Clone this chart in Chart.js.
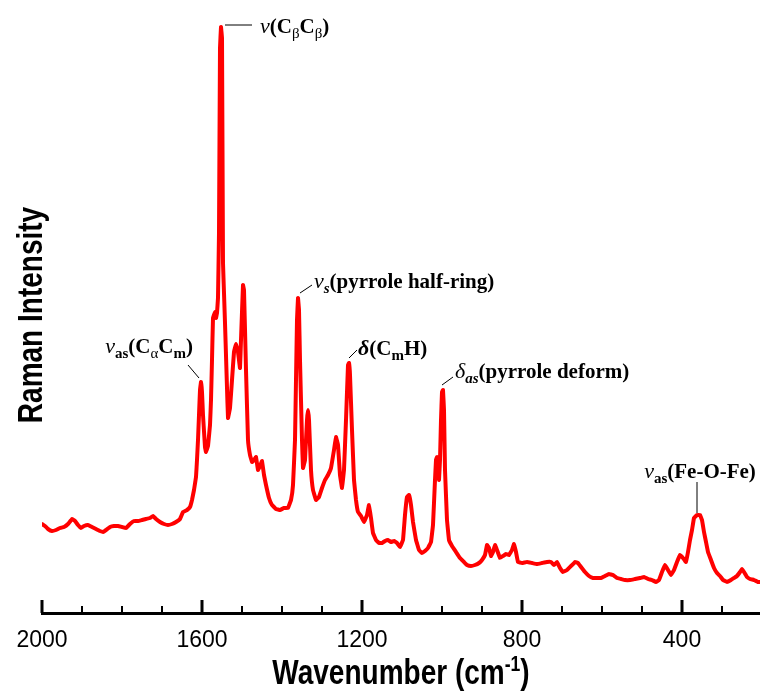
<!DOCTYPE html>
<html>
<head>
<meta charset="utf-8">
<script src="https://cdn.jsdelivr.net/npm/chart.js@4.4.1/dist/chart.umd.min.js"></script>
<style>
  html, body { margin: 0; padding: 0; background: #fff; }
  #wrap { width: 760px; height: 693px; }
</style>
</head>
<body>
<div id="wrap"><canvas id="raman" width="760" height="693"></canvas></div>
<script>
// Espectro Raman (cm-1, intensidad arbitraria)
const wavenumbers = [
  2000, 1992.5, 1985, 1975, 1965, 1955, 1945, 1935, 1925, 1917.5, 1910, 1902.5, 1895, 1885, 1875, 1865,
  1855, 1847.5, 1840, 1830, 1820, 1810, 1800, 1790, 1780, 1770, 1760, 1750, 1740, 1730, 1722.5, 1715,
  1705, 1695, 1685, 1675, 1665, 1655, 1647.5, 1637.5, 1630, 1625, 1620, 1615, 1612.5, 1610, 1607.5, 1605,
  1602.5, 1600, 1597.5, 1592.5, 1590, 1585, 1580, 1577.5, 1575, 1572.5, 1567.5, 1565, 1562.5, 1560, 1557.5, 1555,
  1552.5, 1550, 1547.5, 1545, 1542.5, 1537.5, 1535, 1530, 1525, 1520, 1515, 1510, 1505, 1502.5, 1497.5, 1495,
  1490, 1485, 1480, 1475, 1470, 1465, 1460, 1455, 1450, 1445, 1440, 1432.5, 1425, 1415, 1405, 1395,
  1385, 1377.5, 1372.5, 1367.5, 1365, 1362.5, 1360, 1357.5, 1355, 1350, 1347.5, 1342.5, 1337.5, 1335, 1332.5, 1327.5,
  1322.5, 1315, 1307.5, 1300, 1292.5, 1285, 1277.5, 1270, 1265, 1260, 1255, 1250, 1245, 1240, 1235, 1232.5,
  1230, 1225, 1220, 1215, 1210, 1202.5, 1195, 1187.5, 1182.5, 1177.5, 1172.5, 1165, 1157.5, 1150, 1142.5, 1135,
  1127.5, 1120, 1112.5, 1105, 1097.5, 1092.5, 1087.5, 1082.5, 1077.5, 1072.5, 1065, 1057.5, 1050, 1042.5, 1035, 1027.5,
  1022.5, 1017.5, 1015, 1012.5, 1010, 1007.5, 1005, 1002.5, 1000, 997.5, 995, 992.5, 987.5, 982.5, 975, 965,
  955, 945, 937.5, 927.5, 917.5, 907.5, 900, 892.5, 887.5, 882.5, 877.5, 872.5, 867.5, 862.5, 855, 847.5,
  840, 832.5, 825, 820, 815, 810, 800, 787.5, 775, 762.5, 750, 737.5, 727.5, 720, 712.5, 705,
  697.5, 687.5, 677.5, 667.5, 660, 652.5, 642.5, 632.5, 622.5, 612.5, 602.5, 592.5, 582.5, 572.5, 562.5, 552.5,
  542.5, 530, 517.5, 505, 495, 485, 475, 465, 457.5, 450, 442.5, 435, 427.5, 420, 412.5, 405,
  397.5, 390, 385, 380, 375, 370, 362.5, 355, 350, 345, 340, 335, 327.5, 320, 312.5, 305,
  297.5, 287.5, 277.5, 270, 262.5, 255, 250, 245, 237.5, 230, 220, 210, 205
];
const intensity = [
  89, 87, 84, 82, 83, 85, 86, 89, 94, 92, 88, 85, 87, 88, 86, 84,
  82, 81, 83, 86, 87, 87, 86, 85, 89, 92, 92, 93, 94, 95, 97, 94,
  91, 89, 88, 89, 91, 94, 101, 103, 106, 113, 123, 136, 153, 173, 198, 223,
  231, 221, 198, 166, 161, 167, 188, 213, 253, 295, 301, 295, 300, 315, 380, 565,
  586, 575, 350, 320, 290, 225, 195, 205, 233, 261, 269, 261, 245, 273, 328, 323,
  243, 173, 158, 151, 153, 156, 143, 147, 152, 138, 128, 115, 108, 104, 103, 105,
  105, 113, 128, 173, 233, 293, 315, 303, 253, 173, 145, 153, 193, 203, 193, 143,
  123, 113, 116, 125, 133, 138, 145, 163, 176, 168, 138, 125, 143, 193, 248, 250,
  238, 183, 133, 113, 101, 97, 91, 98, 108, 95, 80, 73, 70, 70, 72, 73,
  71, 72, 70, 66, 73, 98, 116, 118, 108, 91, 73, 63, 60, 62, 65, 71,
  88, 133, 153, 156, 151, 133, 153, 193, 221, 223, 203, 143, 93, 73, 67, 61,
  55, 51, 48, 47, 48, 50, 53, 58, 68, 65, 57, 61, 68, 63, 55, 57,
  59, 58, 63, 69, 61, 51, 50, 51, 50, 49, 50, 51, 51, 48, 51, 45,
  41, 43, 47, 51, 50, 46, 41, 37, 35, 35, 35, 37, 39, 38, 35, 34,
  33, 33, 34, 35, 36, 34, 33, 31, 33, 41, 48, 43, 38, 43, 51, 58,
  55, 51, 61, 73, 83, 95, 98, 98, 93, 81, 71, 61, 53, 45, 40, 37,
  33, 31, 33, 35, 37, 41, 44, 41, 36, 34, 33, 31, 31
];

// Marcas del eje X
const tickValues = [2000, 1900, 1800, 1700, 1600, 1500, 1400, 1300, 1200, 1100, 1000, 900, 800, 700, 600, 500, 400, 300];
const majorTicks = [2000, 1600, 1200, 800, 400];

// Asignaciones de los picos
const peakWavenumbers = [1552.5, 1602.5, 1360, 1232.5, 997.5, 362.5];
const peakLabels = [
  [['ν', 'i'], ['(C', 'b'], ['β', 'sr'], ['C', 'b'], ['β', 'sr'], [')', 'b']],
  [['ν', 'i'], ['as', 'sb'], ['(C', 'b'], ['α', 'sr'], ['C', 'b'], ['m', 'sb'], [')', 'b']],
  [['ν', 'i'], ['s', 'si'], ['(pyrrole half-ring)', 'b']],
  [['δ', 'bi'], ['(C', 'b'], ['m', 'sb'], ['H)', 'b']],
  [['δ', 'i'], ['as', 'si'], ['(pyrrole deform)', 'b']],
  [['ν', 'i'], ['as', 'sb'], ['(Fe-O-Fe)', 'b']]
];

// Posicion de cada etiqueta respecto a su pico (px)
const leaderOffsets = [[4, -2, 31, -2], [-2, -4, -13, -17], [2, -5, 14, -13], [0, -5, 8, -13], [-1, -5, 10, -13], [0, -2, 0, -33]];
const textOffsets = [[39, 6, 'left'], [-8, -29, 'right'], [16, -10, 'left'], [9, -8, 'left'], [12, -12, 'left'], [3, -37, 'center']];

const serif = '"Liberation Serif", "Times New Roman", serif';
const fuentes = {
  b: { font: 'bold 21px ' + serif, dy: 0 },
  i: { font: 'italic 22px ' + serif, dy: 0 },
  bi: { font: 'italic bold 22px ' + serif, dy: 0 },
  sb: { font: 'bold 15px ' + serif, dy: 5 },
  si: { font: 'italic bold 15px ' + serif, dy: 5 },
  sr: { font: '15px ' + serif, dy: 5 }
};

function dibujarTexto(ctx, x, y, partes, align) {
  let ancho = 0;
  partes.forEach(([t, f]) => { ctx.font = fuentes[f].font; ancho += ctx.measureText(t).width; });
  let cx = align === 'right' ? x - ancho : align === 'center' ? x - ancho / 2 : x;
  ctx.textAlign = 'left';
  ctx.textBaseline = 'alphabetic';
  partes.forEach(([t, f]) => {
    ctx.font = fuentes[f].font;
    ctx.fillText(t, cx, y + fuentes[f].dy);
    cx += ctx.measureText(t).width;
  });
}

const decoracion = {
  id: 'decoracion',
  afterDraw(chart) {
    const { ctx, chartArea } = chart;
    const xs = chart.scales.x;
    const ys = chart.scales.y;
    ctx.save();
    ctx.fillStyle = '#000';

    // marcas hacia dentro
    tickValues.forEach(v => {
      const px = Math.round(xs.getPixelForValue(v));
      if (majorTicks.includes(v)) ctx.fillRect(px - 1.5, chartArea.bottom - 13, 3, 13);
      else ctx.fillRect(px - 1, chartArea.bottom - 7, 2, 7);
    });

    // etiquetas de picos
    ctx.strokeStyle = '#000';
    ctx.lineWidth = 1;
    peakWavenumbers.forEach((w, k) => {
      const idx = wavenumbers.indexOf(w);
      const px = xs.getPixelForValue(w);
      const py = ys.getPixelForValue(intensity[idx]);
      const l = leaderOffsets[k];
      ctx.beginPath();
      ctx.moveTo(px + l[0], py + l[1]);
      ctx.lineTo(px + l[2], py + l[3]);
      ctx.stroke();
      const t = textOffsets[k];
      dibujarTexto(ctx, px + t[0], py + t[1], peakLabels[k], t[2]);
    });

    // titulos de ejes (fuente estrecha)
    ctx.save();
    ctx.translate(42, 315);
    ctx.rotate(-Math.PI / 2);
    ctx.scale(0.8, 1);
    ctx.font = 'bold 35px "Liberation Sans", Arial, sans-serif';
    ctx.textAlign = 'center';
    ctx.textBaseline = 'alphabetic';
    ctx.fillText('Raman Intensity', 0, 0);
    ctx.restore();

    ctx.save();
    ctx.translate((chartArea.left + chartArea.right) / 2, 684);
    ctx.scale(0.8, 1);
    const principal = 'bold 35px "Liberation Sans", Arial, sans-serif';
    const superior = 'bold 22px "Liberation Sans", Arial, sans-serif';
    ctx.font = principal;
    const w1 = ctx.measureText('Wavenumber (cm').width;
    const w3 = ctx.measureText(')').width;
    ctx.font = superior;
    const w2 = ctx.measureText('-1').width;
    let cx = -(w1 + w2 + w3) / 2;
    ctx.textAlign = 'left';
    ctx.font = principal;
    ctx.fillText('Wavenumber (cm', cx, 0);
    cx += w1;
    ctx.font = superior;
    ctx.fillText('-1', cx, -13);
    cx += w2;
    ctx.font = principal;
    ctx.fillText(')', cx, 0);
    ctx.restore();

    ctx.restore();
  }
};

const ctx = document.getElementById('raman').getContext('2d');
const chart = new Chart(ctx, {
  type: 'line',
  data: {
    datasets: [{
      data: wavenumbers.map((w, i) => ({ x: w, y: intensity[i] })),
      borderColor: '#ff0000',
      borderWidth: 4,
      borderJoinStyle: 'round',
      borderCapStyle: 'round',
      pointRadius: 0,
      tension: 0.05,
      fill: false
    }]
  },
  options: {
    responsive: false,
    animation: false,
    layout: { padding: { left: 42, right: 0, top: 13, bottom: 0 } },
    plugins: { legend: { display: false }, tooltip: { enabled: false } },
    scales: {
      x: {
        type: 'linear',
        reverse: true,
        min: 205,
        max: 2000,
        afterBuildTicks: s => { s.ticks = tickValues.map(v => ({ value: v })); },
        afterFit: s => { s.height = 80; },
        grid: { display: true, drawOnChartArea: false, drawTicks: false },
        border: { display: true, color: '#000', width: 3 },
        ticks: {
          autoSkip: false,
          maxRotation: 0,
          padding: 14,
          color: '#000',
          font: { family: '"Liberation Sans", Arial, sans-serif', size: 23 },
          callback: v => majorTicks.includes(v) ? String(v) : ''
        }
      },
      y: { display: false, min: 0, max: 600 }
    }
  },
  plugins: [decoracion]
});
</script>
</body>
</html>
